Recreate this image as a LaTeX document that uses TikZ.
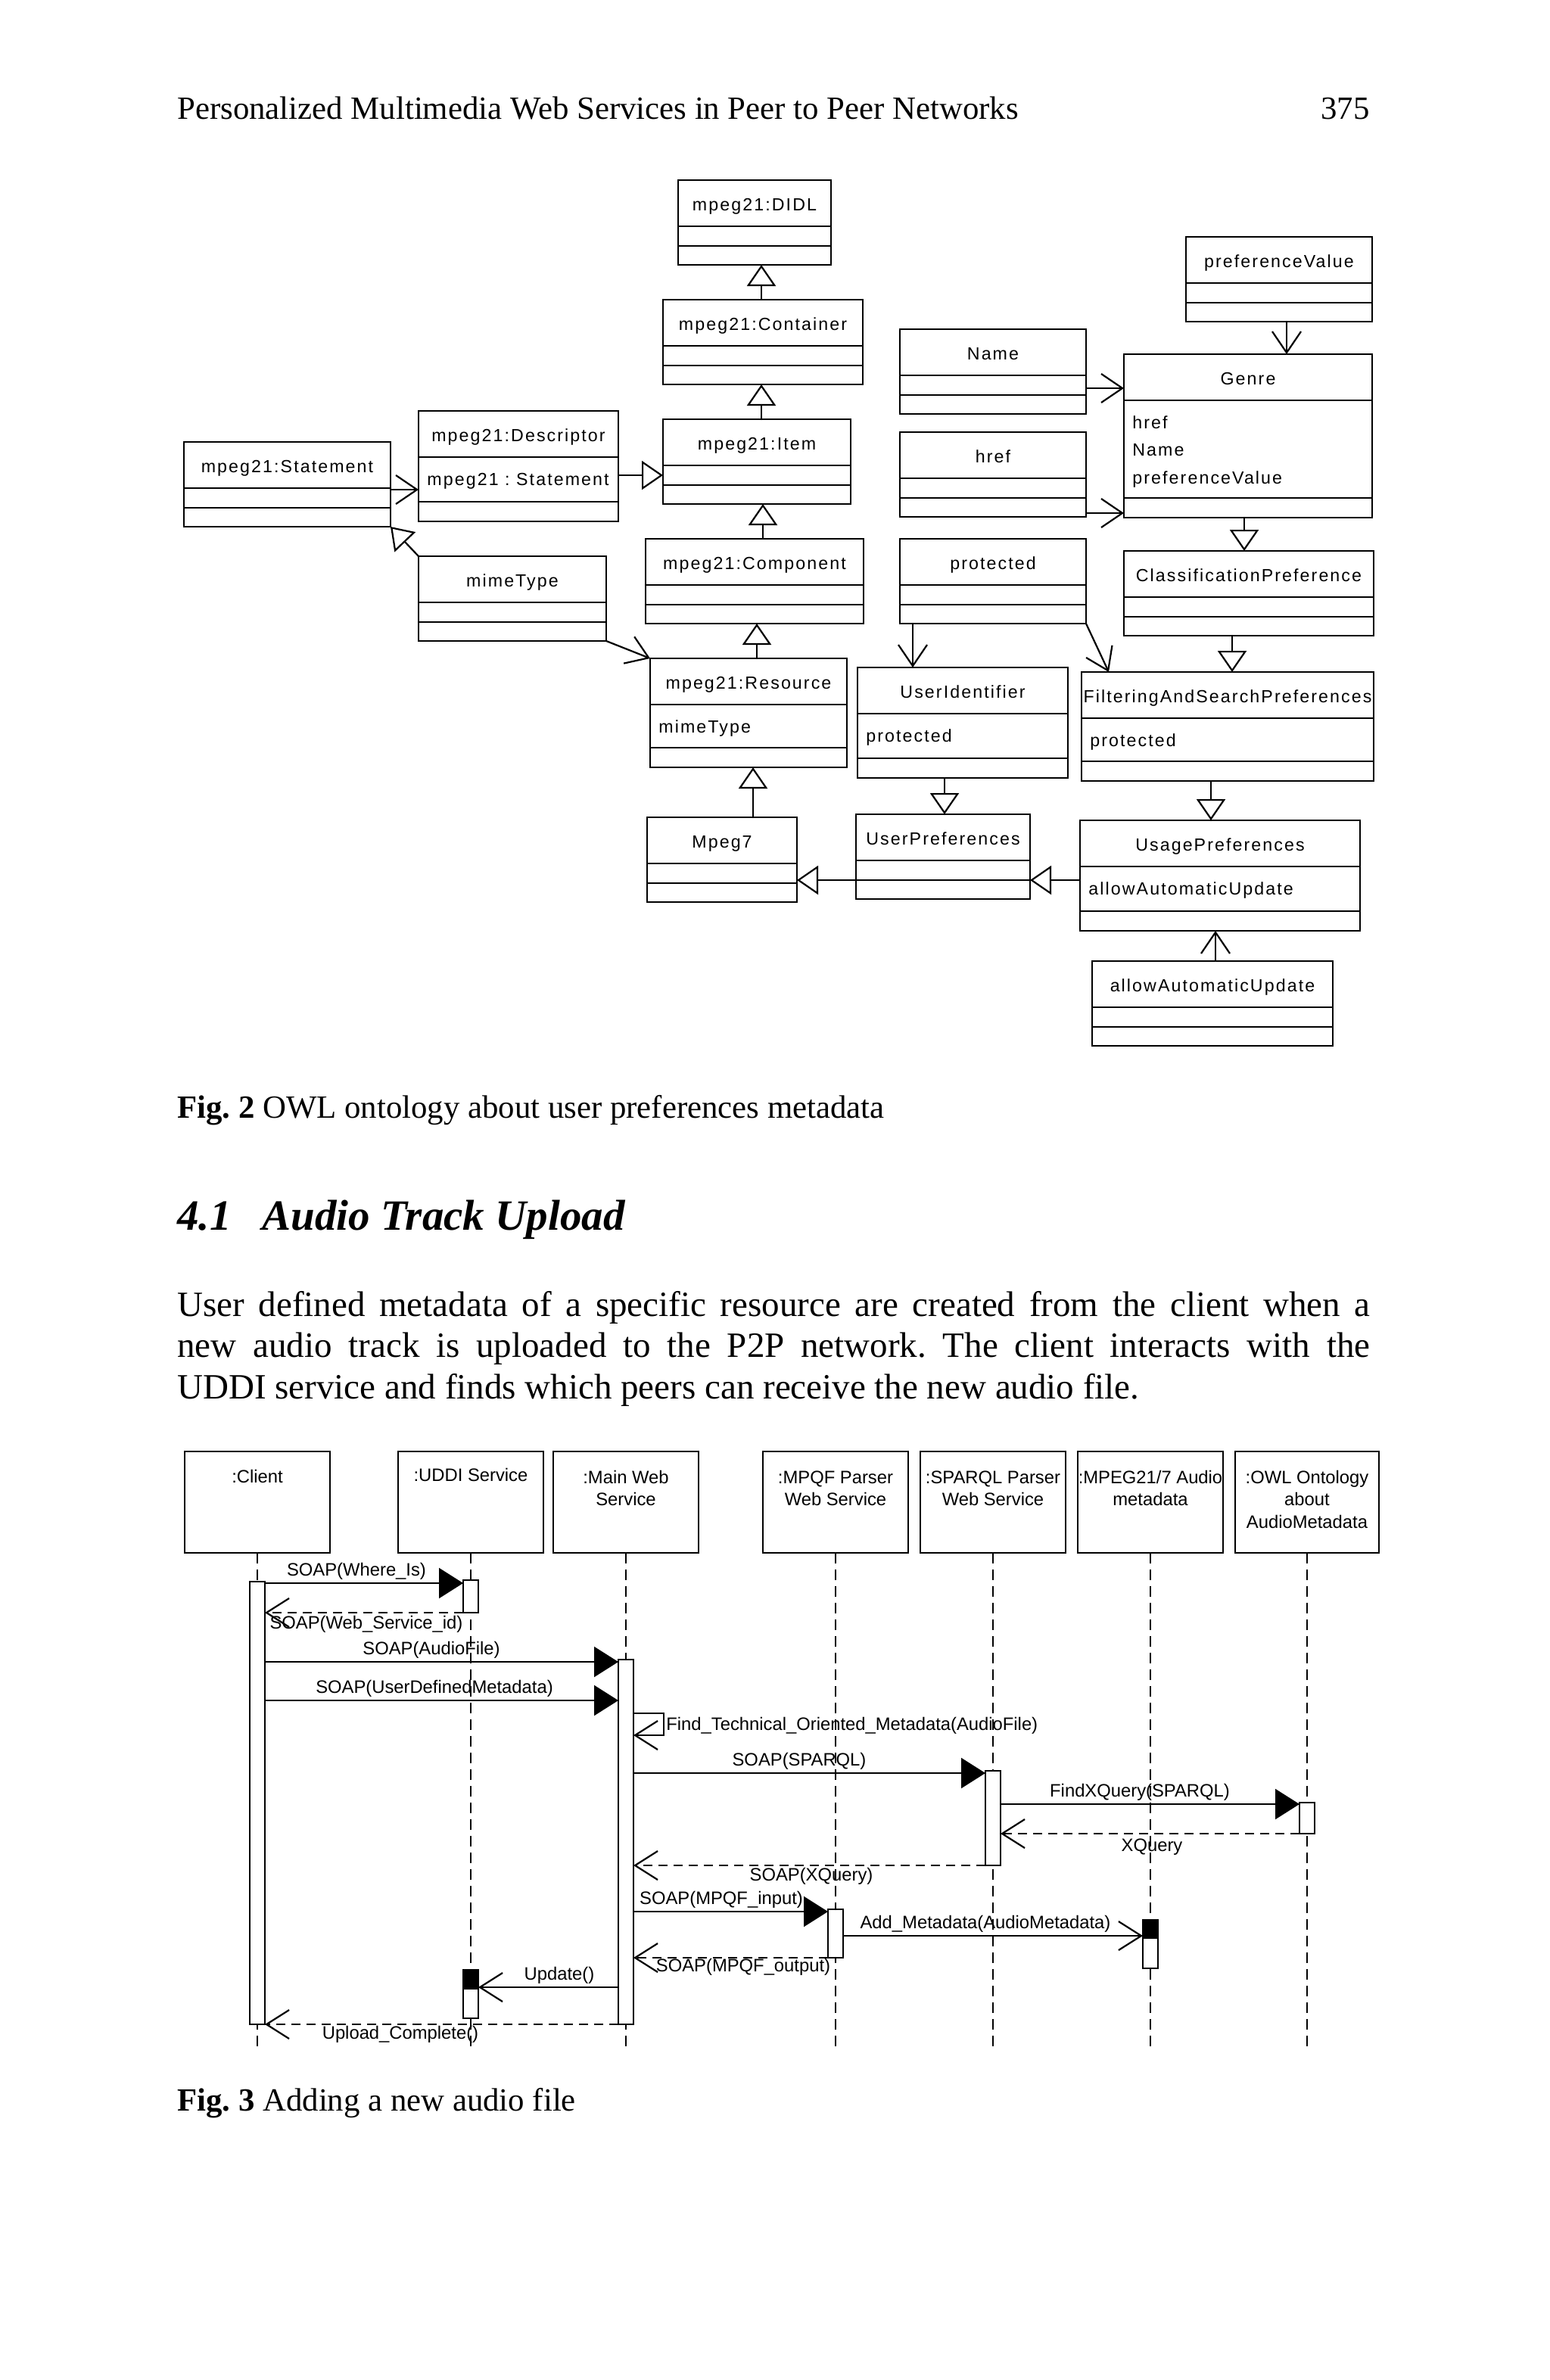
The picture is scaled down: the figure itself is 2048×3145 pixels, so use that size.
\documentclass[tikz,border=0pt]{standalone}
\usepackage{fontspec}
\setmainfont{Liberation Serif}
\newfontfamily\umlf[LetterSpace=9]{Liberation Sans}
\newfontfamily\seqf{Liberation Sans}
\usetikzlibrary{fit,arrows.meta,calc}
\frenchspacing
% class box: name, x1, y1, x2, y2, title, sep1 y, sep2 y
\newcommand\umlcls[8]{%
  \node[clsbox, fit={(#2,#3) (#4,#5)}] (#1) {};
  \draw[sepl] (#1.west |- 0,#7) -- (#1.east |- 0,#7);
  \draw[sepl] (#1.west |- 0,#8) -- (#1.east |- 0,#8);
  \node[ttl] (#1-t) at ($(#1.north)+(0,40)$) {#6};
}
\begin{document}
\begin{tikzpicture}[x=0.5pt,y=-0.5pt,
  clsbox/.style={draw, line width=1.3pt, inner sep=0pt, outer sep=0pt},
  sepl/.style={line width=1.3pt},
  ttl/.style={font={\umlf\fontsize{11.6}{13}\selectfont}, inner sep=0pt, anchor=base},
  att/.style={font={\umlf\fontsize{11.6}{13}\selectfont}, inner sep=0pt, anchor=base west},
  gen/.style={line width=1.1pt, -{Triangle[open, length=14pt, width=19pt]}},
  assoc/.style={line width=1.1pt, -{Straight Barb[length=14pt, width=19pt]}},
  hdbox/.style={draw, line width=1.3pt, inner sep=0pt, outer sep=0pt},
  hdtxt/.style={font={\seqf\fontsize{11.9}{14}\selectfont}, inner sep=0pt, anchor=base},
  life/.style={line width=1.1pt, dash pattern=on 7pt off 4pt},
  actbar/.style={draw, fill=white, line width=1.1pt, inner sep=0pt, outer sep=0pt},
  actfill/.style={fill=black, inner sep=0pt, outer sep=0pt},
  msg/.style={line width=1.1pt, -{Triangle[length=16pt, width=20pt]}},
  ret/.style={line width=1.1pt, dash pattern=on 6pt off 4pt, -{Straight Barb[length=15pt, width=19pt]}},
  call/.style={line width=1.1pt, -{Straight Barb[length=15pt, width=19pt]}},
  mlbl/.style={font={\seqf\fontsize{11.9}{14}\selectfont}, inner sep=0pt, anchor=base},
  mlblw/.style={mlbl, anchor=base west},
  ptxt/.style={inner sep=0pt, anchor=base west, font=\fontsize{21.4}{25}\selectfont},
  btxt/.style={inner sep=0pt, anchor=base west, font=\fontsize{23.5}{27}\selectfont},
  htxt/.style={inner sep=0pt, anchor=base west, font=\fontsize{28.5}{32}\selectfont\bfseries\itshape}
]
\fill[white] (0,0) rectangle (2048,3145);
\useasboundingbox (0,0) rectangle (2048,3145);

% ---------- page text ----------
\node[ptxt] (hdr) at (234,157) {Personalized Multimedia Web Services in Peer to Peer Networks};
\node[ptxt, anchor=base east] (pgno) at (1810,157) {375};
\node[ptxt] (cap2) at (234,1477) {{\bfseries Fig. 2} OWL ontology about user preferences metadata};
\node[htxt] (secno) at (234,1625) {4.1};
\node[htxt] (sectitle) at (346,1625) {Audio Track Upload};
\node[btxt] (par1) at (234,1739) {\makebox[788pt][s]{User defined metadata of a specific resource are created from the client when a}};
\node[btxt] (par2) at (234,1793) {\makebox[788pt][s]{new audio track is uploaded to the P2P network. The client interacts with the}};
\node[btxt] (par3) at (234,1848) {UDDI service and finds which peers can receive the new audio file.};
\node[ptxt] (cap3) at (234,2789) {{\bfseries Fig. 3} Adding a new audio file};

% ---------- Fig. 2 classes ----------
\umlcls{didl}{896}{238}{1098}{350}{mpeg21:DIDL}{299}{325}
\umlcls{container}{876}{396}{1140}{508}{mpeg21:Container}{457}{483}
\umlcls{item}{876}{554}{1124}{666}{mpeg21:Item}{615}{641}
\umlcls{statement}{243}{584}{516}{696}{mpeg21:Statement}{645}{671}
\umlcls{descriptor}{553}{543}{817}{689}{mpeg21:Descriptor}{604}{663}
\node[att] (descriptor-a1) at (564,641) {mpeg21 : Statement};
\umlcls{mimetype}{553}{735}{801}{847}{mimeType}{796}{822}
\umlcls{component}{853}{712}{1141}{824}{mpeg21:Component}{773}{799}
\umlcls{resource}{859}{870}{1119}{1014}{mpeg21:Resource}{931}{988}
\node[att] (resource-a1) at (870,968) {mimeType};
\umlcls{mpeg7}{855}{1080}{1053}{1192}{Mpeg7}{1141}{1167}
\umlcls{name}{1189}{435}{1435}{547}{Name}{496}{522}
\umlcls{href}{1189}{571}{1435}{683}{href}{632}{658}
\umlcls{protected}{1189}{712}{1435}{824}{protected}{773}{799}
\umlcls{prefval}{1567}{313}{1813}{425}{preferenceValue}{374}{400}
\umlcls{genre}{1485}{468}{1813}{684}{Genre}{529}{658}
\node[att] (genre-a1) at (1496,566) {href};
\node[att] (genre-a2) at (1496,602) {Name};
\node[att] (genre-a3) at (1496,639) {preferenceValue};
\umlcls{classpref}{1485}{728}{1815}{840}{ClassificationPreference}{789}{815}
\umlcls{useridentifier}{1133}{882}{1411}{1028}{UserIdentifier}{943}{1002}
\node[att] (useridentifier-a1) at (1144,980) {protected};
\umlcls{fasp}{1429}{888}{1815}{1032}{FilteringAndSearchPreferences}{949}{1006}
\node[att] (fasp-a1) at (1440,986) {protected};
\umlcls{userpref}{1131}{1076}{1361}{1188}{UserPreferences}{1137}{1163}
\umlcls{usagepref}{1427}{1084}{1797}{1230}{UsagePreferences}{1145}{1204}
\node[att] (usagepref-a1) at (1438,1182) {allowAutomaticUpdate};
\umlcls{aau}{1443}{1270}{1761}{1382}{allowAutomaticUpdate}{1331}{1357}

% ---------- Fig. 2 connectors ----------
\draw[gen] (container.north -| 1006,0) -- (didl.south -| 1006,0);
\draw[gen] (item.north -| 1006,0) -- (container.south -| 1006,0);
\draw[gen] (component.north -| 1008,0) -- (item.south -| 1008,0);
\draw[gen] (resource.north -| 1000,0) -- (component.south -| 1000,0);
\draw[gen] (mpeg7.north -| 995,0) -- (resource.south -| 995,0);
\draw[gen] (descriptor.east |- 0,628) -- (item.west |- 0,628);
\draw[assoc] (statement.east |- 0,647) -- (descriptor.west |- 0,647);
\draw[gen] (mimetype.north west) -- (statement.south east);
\draw[assoc] (mimetype.south east) -- (resource.north west);
\draw[assoc] (name.east |- 0,513) -- (genre.west |- 0,513);
\draw[assoc] (href.east |- 0,678) -- (genre.west |- 0,678);
\draw[assoc] (prefval.south -| 1700,0) -- (genre.north -| 1700,0);
\draw[gen] (genre.south -| 1644,0) -- (classpref.north -| 1644,0);
\draw[gen] (classpref.south -| 1628,0) -- (fasp.north -| 1628,0);
\draw[gen] (fasp.south -| 1600,0) -- (usagepref.north -| 1600,0);
\draw[gen] (usagepref.west |- 0,1163) -- (userpref.east |- 0,1163);
\draw[gen] (userpref.west |- 0,1163) -- (mpeg7.east |- 0,1163);
\draw[gen] (useridentifier.south -| 1248,0) -- (userpref.north -| 1248,0);
\draw[assoc] (protected.south -| 1206,0) -- (useridentifier.north -| 1206,0);
\draw[assoc] (protected.south east) -- ($(fasp.north west)+(36,0)$);
\draw[assoc] (aau.north -| 1606,0) -- (usagepref.south -| 1606,0);

% ---------- Fig. 3 lifeline heads ----------
\node[hdbox, fit={(244,1918) (436,2052)}] (client) {};
\node[hdtxt] (client-l1) at (340,1959) {:Client};
\node[hdbox, fit={(526,1918) (718,2052)}] (uddi) {};
\node[hdtxt] (uddi-l1) at (622,1957) {:UDDI Service};
\node[hdbox, fit={(731,1918) (923,2052)}] (mainws) {};
\node[hdtxt] (mainws-l1) at (827,1960) {:Main Web};
\node[hdtxt] (mainws-l2) at (827,1989) {Service};
\node[hdbox, fit={(1008,1918) (1200,2052)}] (mpqf) {};
\node[hdtxt] (mpqf-l1) at (1104,1960) {:MPQF Parser};
\node[hdtxt] (mpqf-l2) at (1104,1989) {Web Service};
\node[hdbox, fit={(1216,1918) (1408,2052)}] (sparql) {};
\node[hdtxt] (sparql-l1) at (1312,1960) {:SPARQL Parser};
\node[hdtxt] (sparql-l2) at (1312,1989) {Web Service};
\node[hdbox, fit={(1424,1918) (1616,2052)}] (mpeg) {};
\node[hdtxt] (mpeg-l1) at (1520,1960) {:MPEG21/7 Audio};
\node[hdtxt] (mpeg-l2) at (1520,1989) {metadata};
\node[hdbox, fit={(1632,1918) (1822,2052)}] (owl) {};
\node[hdtxt] (owl-l1) at (1727,1960) {:OWL Ontology};
\node[hdtxt] (owl-l2) at (1727,1989) {about};
\node[hdtxt] (owl-l3) at (1727,2019) {AudioMetadata};

% lifelines
\coordinate (client-end) at (340,2706);
\coordinate (uddi-end) at (622,2706);
\coordinate (mainws-end) at (827,2706);
\coordinate (mpqf-end) at (1104,2706);
\coordinate (sparql-end) at (1312,2706);
\coordinate (mpeg-end) at (1520,2706);
\coordinate (owl-end) at (1727,2706);
\draw[life] (client.south) -- (client-end);
\draw[life] (uddi.south) -- (uddi-end);
\draw[life] (mainws.south) -- (mainws-end);
\draw[life] (mpqf.south) -- (mpqf-end);
\draw[life] (sparql.south) -- (sparql-end);
\draw[life] (mpeg.south) -- (mpeg-end);
\draw[life] (owl.south) -- (owl-end);

% activation bars
\node[actbar, fit={(330,2090) (350,2675)}] (clientbar) {};
\node[actbar, fit={(612,2088) (632,2131)}] (uddibar1) {};
\node[actbar, fit={(612,2603) (632,2667)}] (uddibar2) {};
\node[actfill, fit={(612,2603) (632,2629)}] (uddibar2-f) {};
\node[actbar, fit={(817,2193) (837,2675)}] (mainbar) {};
\node[actbar, fit={(1302,2340) (1322,2465)}] (sparqlbar) {};
\node[actbar, fit={(1717,2382) (1737,2423)}] (owlbar) {};
\node[actbar, fit={(1094,2523) (1114,2587)}] (mpqfbar) {};
\node[actbar, fit={(1510,2537) (1530,2601)}] (mpegbar) {};
\node[actfill, fit={(1510,2537) (1530,2562)}] (mpegbar-f) {};

% messages
\draw[msg] (clientbar.east |- 0,2092) -- (uddibar1.west |- 0,2092);
\node[mlbl] (m1) at (471,2082) {SOAP(Where\_Is)};
\draw[ret] (uddibar1.west |- 0,2131) -- (clientbar.east |- 0,2131);
\node[mlbl] (m2) at (484,2152) {SOAP(Web\_Service\_id)};
\draw[msg] (clientbar.east |- 0,2196) -- (mainbar.west |- 0,2196);
\node[mlbl] (m3) at (570,2186) {SOAP(AudioFile)};
\draw[msg] (clientbar.east |- 0,2247) -- (mainbar.west |- 0,2247);
\node[mlbl] (m4) at (574,2237) {SOAP(UserDefinedMetadata)};
\coordinate (self-a) at (877,2264);
\coordinate (self-b) at (877,2293);
\draw[call] (mainbar.east |- self-a) -- (self-a) -- (self-b) -- (mainbar.east |- self-b);
\node[mlblw] (m5) at (880,2286) {Find\_Technical\_Oriented\_Metadata(AudioFile)};
\draw[msg] (mainbar.east |- 0,2343) -- (sparqlbar.west |- 0,2343);
\node[mlbl] (m6) at (1056,2333) {SOAP(SPARQL)};
\draw[msg] (sparqlbar.east |- 0,2384) -- (owlbar.west |- 0,2384);
\node[mlbl] (m7) at (1506,2374) {FindXQuery(SPARQL)};
\draw[ret] (owlbar.west |- 0,2423) -- (sparqlbar.east |- 0,2423);
\node[mlbl] (m8) at (1522,2446) {XQuery};
\draw[ret] (sparqlbar.west |- 0,2465) -- (mainbar.east |- 0,2465);
\node[mlbl] (m9) at (1072,2485) {SOAP(XQuery)};
\draw[msg] (mainbar.east |- 0,2526) -- (mpqfbar.west |- 0,2526);
\node[mlbl] (m10) at (953,2516) {SOAP(MPQF\_input)};
\draw[call] (mpqfbar.east |- 0,2558) -- (mpegbar.west |- 0,2558);
\node[mlbl] (m11) at (1302,2548) {Add\_Metadata(AudioMetadata)};
\draw[ret] (mpqfbar.west |- 0,2587) -- (mainbar.east |- 0,2587);
\node[mlbl] (m12) at (982,2605) {SOAP(MPQF\_output)};
\draw[call] (mainbar.west |- 0,2626) -- (uddibar2.east |- 0,2626);
\node[mlbl] (m13) at (739,2616) {Update()};
\draw[ret] (mainbar.west |- 0,2675) -- (clientbar.east |- 0,2675);
\node[mlbl] (m14) at (529,2694) {Upload\_Complete()};
\end{tikzpicture}
\end{document}
